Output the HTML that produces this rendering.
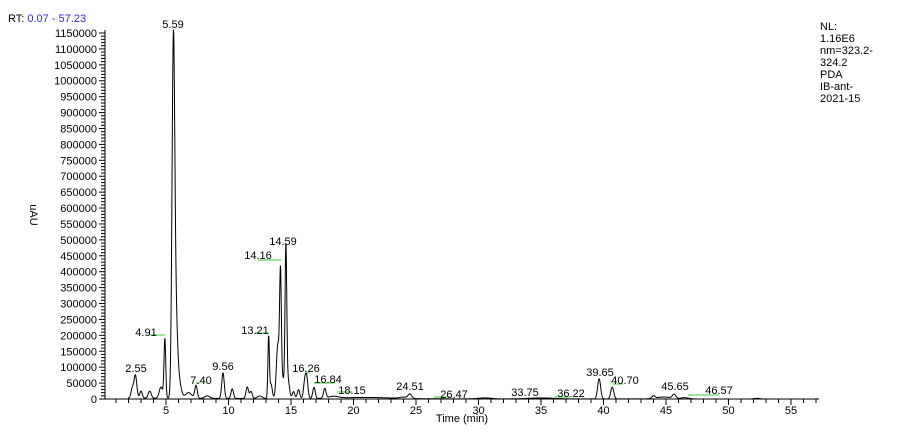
<!DOCTYPE html>
<html><head><meta charset="utf-8"><style>
html,body{margin:0;padding:0;background:#fff;}
svg{display:block;font-family:"Liberation Sans",Arial,sans-serif;}
</style></head><body>
<svg id="s" width="900" height="437" xmlns="http://www.w3.org/2000/svg">
<text x="8" y="22" font-size="11" fill="#000">RT: <tspan fill="#2b2bd0">0.07 - 57.23</tspan></text>
<g font-size="11" fill="#000">
<text x="820" y="30">NL:</text>
<text x="820" y="42">1.16E6</text>
<text x="820" y="54">nm=323.2-</text>
<text x="820" y="66">324.2</text>
<text x="820" y="78">PDA</text>
<text x="820" y="90">IB-ant-</text>
<text x="820" y="102">2021-15</text>
</g>
<text x="30" y="215" font-size="11" transform="rotate(90 30 215)" text-anchor="middle">uAU</text>
<text x="462" y="422" font-size="11" text-anchor="middle">Time (min)</text>
<g id="ax" stroke="#000" stroke-width="1"></g>
<g id="lab" font-size="11" text-anchor="middle"></g>
<path id="tr" fill="none" stroke="#000" stroke-width="1"/>
</svg>
<script>
var X=function(t){return 103.5+t*12.5;};
var Y=function(v){return 399-v*366/1150000;};
var ax=document.getElementById('ax'),lab=document.getElementById('lab'),ns='http://www.w3.org/2000/svg';
function el(p,tag,a,txt){var e=document.createElementNS(ns,tag);for(var k in a)e.setAttribute(k,a[k]);if(txt)e.textContent=txt;p.appendChild(e);return e;}
el(ax,'line',{x1:105,y1:399,x2:819,y2:399});
el(ax,'line',{x1:105,y1:30,x2:105,y2:399});
for(var v=0;v<=1150000;v+=10000){var y=Y(v),maj=v%50000==0;el(ax,'line',{x1:maj?99:101,y1:y,x2:105,y2:y});
 if(maj)el(document.getElementById('s'),'text',{x:97,y:y+4,'font-size':11,'text-anchor':'end'},String(v));}
for(var t=1;t<=57;t++){var x=X(t),maj=t%5==0;el(ax,'line',{x1:x,y1:399,x2:x,y2:maj?405:403});
 if(maj)el(document.getElementById('s'),'text',{x:x,y:414,'font-size':11,'text-anchor':'middle'},String(t));}
var P=[[2.3,30000,.1],[2.55,72000,.11],[3.0,22000,.1],[3.7,22000,.12],[4.6,35000,.14],[4.91,185000,.07],[5.59,1080000,.11],[5.8,230000,.14],[6.1,40000,.15],[6.8,18000,.25],[7.40,40000,.1],[8.3,8000,.2],[9.56,80000,.1],[10.3,30000,.1],[11.5,36000,.1],[11.8,22000,.1],[12.5,8000,.2],[13.21,190000,.06],[13.4,45000,.1],[13.95,170000,.12],[14.16,370000,.07],[14.35,60000,.1],[14.59,460000,.07],[14.75,60000,.12],[15.2,22000,.1],[15.6,28000,.1],[16.1,50000,.1],[16.26,60000,.1],[16.84,35000,.1],[17.7,30000,.1],[18.4,6000,.4],[21,4000,2],[24.51,14000,.14],[24,4000,.3],[30.5,3000,.5],[35,3000,1],[39.65,63000,.12],[40.70,37000,.12],[44,8000,.12],[44.8,6000,.6],[45.65,13000,.14],[46.5,4000,.3],[52.3,2000,.2]];
var d='';for(var t=0.07;t<=57.23;t+=0.01){var v=0;if(t>2)v+=3000*Math.exp(-(t-2)/15);for(var i=0;i<P.length;i++){var z=(t-P[i][0])/P[i][2];if(Math.abs(z)<6)v+=P[i][1]*Math.exp(-z*z/2);}
 d+=(d?'L':'M')+X(t).toFixed(2)+' '+Y(v).toFixed(2);}
document.getElementById('tr').setAttribute('d',d);
var L=[['5.59',173,28],['14.59',283,245],['14.16',258,259,258,281,260],['13.21',255,334,255,269,333],['4.91',146,336,148,165,335],['2.55',136,372],['9.56',223,370],['7.40',201,384,196,200,383],['16.26',306,372,305,310,373],['16.84',328,383,314,335,383],['18.15',352,394,337,352,392],['24.51',410,390],['26.47',454,398,434,452,397],['33.75',525,396],['36.22',571,397,555,570,397],['39.65',600,376],['40.70',625,384,613,623,384],['45.65',675,390],['46.57',719,394,688,718,395]];
L.forEach(function(l){if(l[3])el(ax,'line',{x1:l[3],y1:l[5],x2:l[4],y2:l[5],stroke:'#3c3'});el(lab,'text',{x:l[1],y:l[2]},l[0]);});
</script>
</body></html>
